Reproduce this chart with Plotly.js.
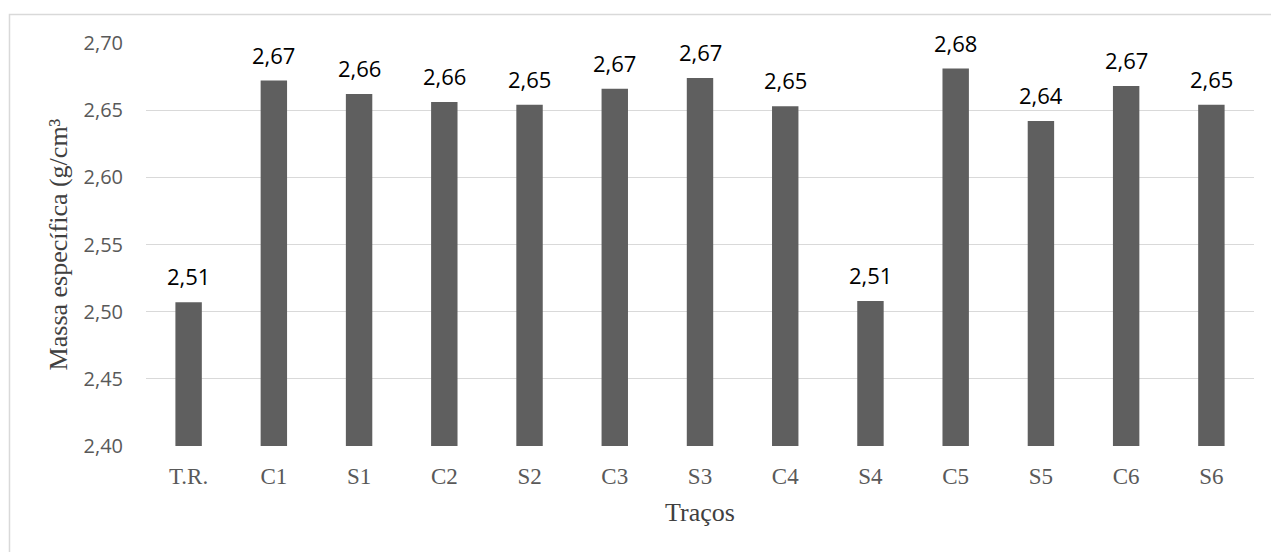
<!DOCTYPE html>
<html>
<head>
<meta charset="utf-8">
<script src="https://cdn.plot.ly/plotly-3.0.1.min.js"></script>
<style>
  html, body { margin: 0; padding: 0; background: #ffffff; }
  #chart { width: 1271px; height: 552px; }
</style>
</head>
<body>
<div id="chart"></div>
<script>
// Mix designs (traços) and their measured specific mass in g/cm³
const tracos = ['T.R.', 'C1', 'S1', 'C2', 'S2', 'C3', 'S3', 'C4', 'S4', 'C5', 'S5', 'C6', 'S6'];
const massaEspecifica = [2.507, 2.672, 2.662, 2.656, 2.654, 2.666, 2.674, 2.653, 2.508, 2.681, 2.642, 2.668, 2.654];
const yTickValues = [2.40, 2.45, 2.50, 2.55, 2.60, 2.65, 2.70];
const yTickLabels = ['2,40', '2,45', '2,50', '2,55', '2,60', '2,65', '2,70'];

// Brazilian decimal comma for the value labels
const fmt = v => v.toFixed(2).replace('.', ',');

const trace = {
  type: 'bar',
  x: tracos,
  y: massaEspecifica,
  width: 0.31,
  marker: { color: '#5f5f5f', line: { width: 0 } },
  hoverinfo: 'x+y'
};

const valueLabels = tracos.map((t, i) => ({
  x: t,
  y: massaEspecifica[i],
  xref: 'x',
  yref: 'y',
  text: fmt(massaEspecifica[i]),
  showarrow: false,
  yanchor: 'bottom',
  yshift: 9,
  font: { family: 'Open Sans, sans-serif', size: 22, color: '#000000' }
}));

const layout = {
  width: 1271,
  height: 552,
  margin: { l: 146, r: 17, t: 43, b: 106, pad: 0 },
  paper_bgcolor: '#ffffff',
  plot_bgcolor: '#ffffff',
  showlegend: false,
  bargap: 0.69,
  xaxis: {
    type: 'category',
    showgrid: false,
    showline: false,
    zeroline: false,
    ticks: '',
    ticklabelstandoff: 14,
    tickfont: { family: 'Liberation Serif, Times New Roman, serif', size: 23, color: '#595959' },
    title: {
      text: 'Traços',
      standoff: 14,
      font: { family: 'Liberation Serif, Times New Roman, serif', size: 26, color: '#404040' }
    },
    automargin: false
  },
  yaxis: {
    range: [2.40, 2.70],
    tickmode: 'array',
    tickvals: yTickValues,
    ticktext: yTickLabels,
    showgrid: true,
    gridcolor: '#d9d9d9',
    gridwidth: 1.3,
    showline: false,
    zeroline: false,
    ticks: '',
    ticklabelstandoff: 22,
    tickfont: { family: 'Open Sans, sans-serif', size: 20, color: '#595959' },
    title: {
      text: 'Massa específica (g/cm³',
      standoff: 8,
      font: { family: 'Liberation Serif, Times New Roman, serif', size: 26, color: '#404040' }
    },
    automargin: false
  },
  annotations: valueLabels,
  shapes: [
    {
      type: 'path',
      xref: 'paper',
      yref: 'paper',
      path: 'M -0.1232 -0.4 L -0.1232 1.0705 L 1.1 1.0705',
      line: { color: '#d9d9d9', width: 1.5 }
    }
  ]
};

Plotly.newPlot('chart', [trace], layout, { displayModeBar: false, staticPlot: true });
</script>
</body>
</html>
